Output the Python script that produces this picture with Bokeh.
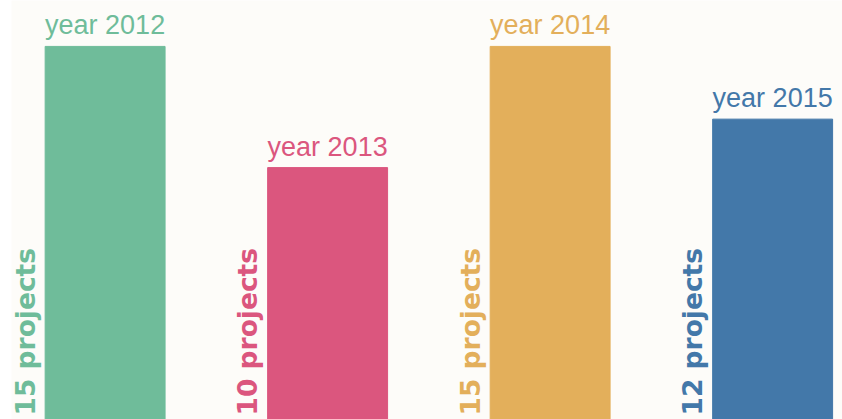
import numpy as np
from bokeh.plotting import figure
from bokeh.models import ColumnDataSource, Range1d
from bokeh.core.properties import value
from bokeh.embed import file_html
from bokeh.resources import INLINE

# ---- data ----
years = ["2012", "2013", "2014", "2015"]
projects = [15, 10, 15, 12]
colors = ["#6fbc9a", "#db567e", "#e3af5b", "#4378a9"]

year_labels = [f"year {y}" for y in years]
project_labels = [f"{n} projects" for n in projects]
idx = list(range(len(years)))

# ---- layout ----
X_START, X_END = -0.4207, 3.314
Y_START, Y_END = -0.392, 16.894
BG = "#fdfcf9"

source = ColumnDataSource(dict(
    x=idx, top=projects, color=colors,
    year_label=year_labels, project_label=project_labels,
    base=[Y_START] * len(idx),
))

p = figure(width=831, height=419, output_backend="svg", toolbar_location=None,
           x_range=Range1d(X_START, X_END), y_range=Range1d(Y_START, Y_END),
           x_axis_location=None, y_axis_location=None,
           min_border=0, background_fill_color=BG, border_fill_color=BG,
           outline_line_color=None, margin=(0, 0, 0, 11))
p.grid.visible = False

p.vbar(x="x", top="top", bottom="base", width=0.539, color="color", source=source)

p.text(x="x", y="top", text="year_label", text_color="color",
       text_font=value("Liberation Sans"), text_font_size=value("27px"),
       text_align="center", text_baseline="alphabetic", y_offset=-21,
       source=source)

p.text(x="x", y=Y_START, text="project_label", angle=np.pi / 2,
       text_color="color", text_font=value("DejaVu Sans"),
       text_font_style="bold", text_font_size=value("26.5px"),
       text_align="left", text_baseline="alphabetic",
       x_offset=-80, y_offset=-4, source=source)

open("out.html", "w").write(file_html(p, INLINE))
